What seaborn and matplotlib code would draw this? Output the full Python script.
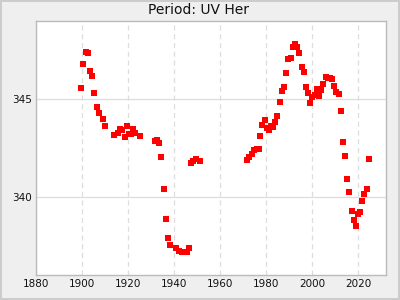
import matplotlib
matplotlib.use("Agg")
import matplotlib.pyplot as plt
from matplotlib.ticker import MultipleLocator
import seaborn as sns
import pandas as pd

years = [1899.4, 1900.3, 1901.6, 1902.5, 1903.3, 1904.2, 1905.1, 1906.4, 1907.2, 1909.0,
         1909.9, 1913.8, 1915.5, 1916.4, 1917.3, 1918.6, 1919.4, 1920.3, 1921.2, 1922.0,
         1922.9, 1925.1, 1931.6, 1932.5, 1933.4, 1934.2, 1935.5, 1936.4, 1937.3, 1938.1,
         1940.7, 1942.1, 1943.5, 1944.6, 1945.5, 1946.4, 1947.3, 1948.1, 1949.4, 1951.2,
         1971.6, 1972.5, 1973.8, 1974.7, 1976.0, 1976.9, 1977.3, 1978.2, 1979.5, 1980.3,
         1981.2, 1982.1, 1983.0, 1983.8, 1984.7, 1986.0, 1986.9, 1987.7, 1988.6, 1989.5,
         1990.8, 1991.7, 1992.5, 1993.4, 1994.3, 1995.6, 1996.4, 1997.3, 1998.2, 1999.1,
         2000.0, 2001.2, 2002.1, 2003.0, 2003.8, 2004.7, 2006.0, 2006.9, 2007.8, 2008.6,
         2009.5, 2010.4, 2011.7, 2012.6, 2013.4, 2014.3, 2015.2, 2016.0, 2017.3, 2018.2,
         2019.1, 2020.0, 2020.9, 2021.7, 2022.6, 2023.9, 2024.7]
periods = [345.56, 346.79, 347.45, 347.35, 346.43, 346.17, 345.31, 344.59, 344.30, 343.98,
           343.62, 343.16, 343.27, 343.47, 343.42, 343.06, 343.62, 343.21, 343.21, 343.47,
           343.27, 343.11, 342.86, 342.91, 342.76, 342.04, 340.41, 338.88, 337.86, 337.50,
           337.35, 337.24, 337.19, 337.14, 337.14, 337.35, 341.73, 341.84, 341.94, 341.84,
           341.89, 342.04, 342.19, 342.40, 342.45, 342.45, 343.11, 343.67, 343.93, 343.52,
           343.42, 343.62, 343.57, 343.83, 344.13, 344.85, 345.41, 345.61, 346.33, 347.09,
           347.14, 347.70, 347.81, 347.70, 347.35, 346.68, 346.38, 345.61, 345.31, 344.80,
           345.10, 345.20, 345.51, 345.15, 345.46, 345.77, 346.12, 346.07, 346.07, 346.02,
           345.66, 345.36, 345.26, 344.39, 342.81, 342.09, 340.92, 340.26, 339.29, 338.83,
           338.52, 339.13, 339.23, 339.80, 340.15, 340.41, 341.94]

title = "Period: UV Her"
x_ticks = [1880, 1900, 1920, 1940, 1960, 1980, 2000, 2020]
y_ticks = [340, 345]

df = pd.DataFrame({"year": years, "period": periods})

sns.set_style("white")
plt.rcParams['font.family'] = ['DejaVu Sans']

fig = plt.figure(figsize=(4, 3), dpi=100, facecolor="#efefef",
                 edgecolor="#cccccc", linewidth=1.5)
ax = fig.add_axes([0.09, 0.0843, 0.874, 0.8447])
ax.set_facecolor("white")

sns.scatterplot(data=df, x="year", y="period", ax=ax, marker="s", s=20,
                color="#ff0000", linewidth=0, zorder=3)

ax.set_xlim(1880, 2032)
ax.set_ylim(336, 349)
ax.set_xticks(x_ticks)
ax.set_yticks(y_ticks)
ax.xaxis.set_minor_locator(MultipleLocator(10))
ax.yaxis.set_minor_locator(MultipleLocator(1))
ax.tick_params(which="both", direction="in", length=3.5, width=0.8,
               color="#222222", labelsize=7.5, labelcolor="#111111", pad=3)
ax.tick_params(which="major", length=0)
ax.xaxis.grid(True, which="major", color="#dddddd", linestyle=(0, (4, 3)), linewidth=0.9)
ax.yaxis.grid(True, which="major", color="#dddddd", linestyle="-", linewidth=0.9)
ax.set_axisbelow(True)
for sp in ax.spines.values():
    sp.set_color("#bbbbbb")
    sp.set_linewidth(1)
ax.set_xlabel("")
ax.set_ylabel("")

fig.suptitle(title, x=0.497, y=0.965, va="center", fontsize=10, color="#111111")

fig.savefig("out.png", dpi=100, facecolor=fig.get_facecolor(), edgecolor=fig.get_edgecolor())
